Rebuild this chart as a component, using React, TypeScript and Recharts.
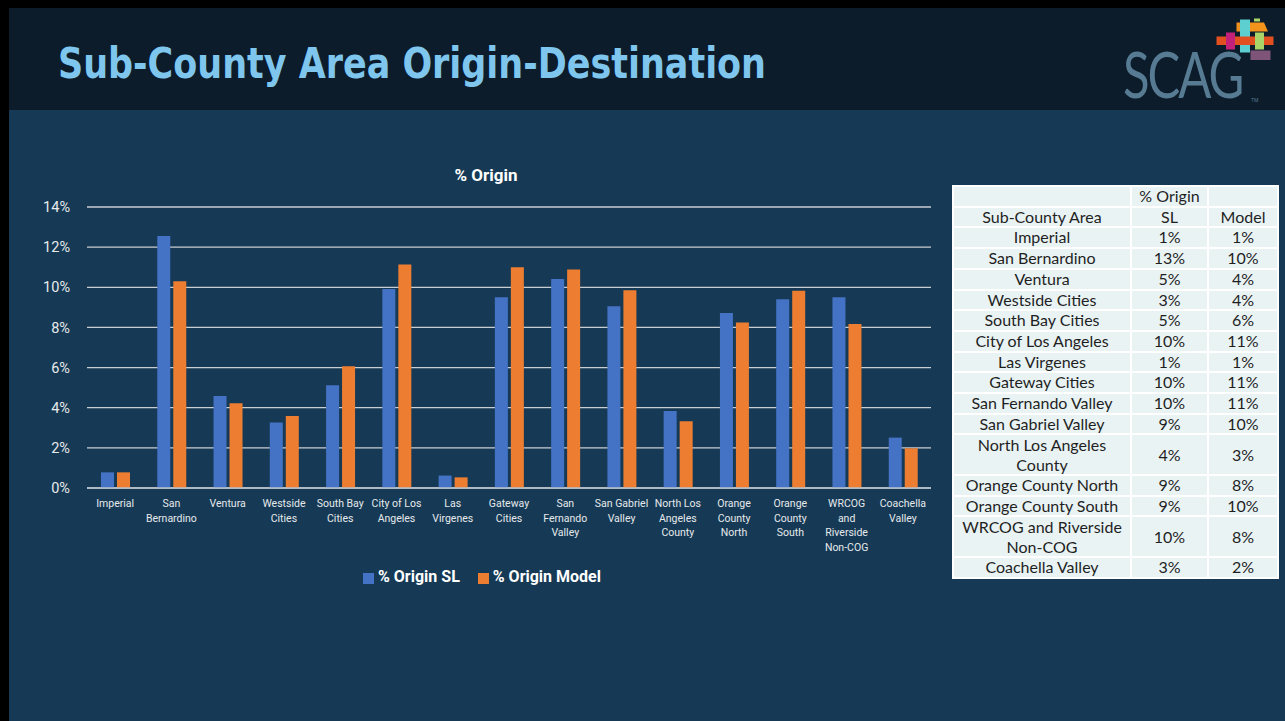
import React from 'react'
import { BarChart, Bar, XAxis, YAxis, CartesianGrid, Legend } from 'recharts'

const CATEGORIES = [
  'Imperial', 'San Bernardino', 'Ventura', 'Westside Cities', 'South Bay Cities',
  'City of Los Angeles', 'Las Virgenes', 'Gateway Cities', 'San Fernando Valley',
  'San Gabriel Valley', 'North Los Angeles County', 'Orange County North',
  'Orange County South', 'WRCOG and Riverside Non-COG', 'Coachella Valley',
]
const TICK_LINES = [
  ['Imperial'], ['San', 'Bernardino'], ['Ventura'], ['Westside', 'Cities'], ['South Bay', 'Cities'],
  ['City of Los', 'Angeles'], ['Las', 'Virgenes'], ['Gateway', 'Cities'], ['San', 'Fernando', 'Valley'],
  ['San Gabriel', 'Valley'], ['North Los', 'Angeles', 'County'], ['Orange', 'County', 'North'],
  ['Orange', 'County', 'South'], ['WRCOG', 'and', 'Riverside', 'Non-COG'], ['Coachella', 'Valley'],
]
const ORIGIN_SL = [0.78, 12.56, 4.58, 3.26, 5.12, 9.92, 0.62, 9.5, 10.41, 9.05, 3.84, 8.72, 9.4, 9.5, 2.51]
const ORIGIN_MODEL = [0.78, 10.3, 4.22, 3.59, 6.06, 11.13, 0.53, 11.0, 10.88, 9.85, 3.32, 8.24, 9.83, 8.17, 1.98]
const Y_TICKS = [0, 2, 4, 6, 8, 10, 12, 14]

const TABLE_AREAS = [
  'Imperial', 'San Bernardino', 'Ventura', 'Westside Cities', 'South Bay Cities',
  'City of Los Angeles', 'Las Virgenes', 'Gateway Cities', 'San Fernando Valley',
  'San Gabriel Valley', 'North Los Angeles\nCounty', 'Orange County North',
  'Orange County South', 'WRCOG and Riverside\nNon-COG', 'Coachella Valley',
]
const TABLE_SL = ['1%', '13%', '5%', '3%', '5%', '10%', '1%', '10%', '10%', '9%', '4%', '9%', '9%', '10%', '3%']
const TABLE_MODEL = ['1%', '10%', '4%', '4%', '6%', '11%', '1%', '11%', '11%', '10%', '3%', '8%', '10%', '8%', '2%']

const data = CATEGORIES.map((name, i) => ({
  name,
  sl: ORIGIN_SL[i],
  model: ORIGIN_MODEL[i],
}))

const CHART_FONT = 'Roboto, "Noto Sans", sans-serif'

function CategoryTick(props: any) {
  const { x, y, index } = props
  const lines = TICK_LINES[index] || []
  return (
    <text x={x} y={y} textAnchor="middle" fill="#e6e9ec" fontSize={10.5} fontFamily={CHART_FONT}>
      {lines.map((l, i) => (
        <tspan key={i} x={x} dy={i === 0 ? 11 : 14.5}>{l}</tspan>
      ))}
    </text>
  )
}

const cellStyle: React.CSSProperties = {
  border: '2px solid #ffffff',
  padding: 0,
  textAlign: 'center',
  height: 18.7,
  lineHeight: '18.7px',
  whiteSpace: 'pre-line',
}

// SCAG mark: text plus the coloured blocks above it
function Logo() {
  return (
    <svg width={180} height={110} style={{ position: 'absolute', left: 1105, top: 0 }}>
      <rect x={131.5} y={22.5} width={4} height={9} fill="#f0901e" />
      <rect x={135} y={19.5} width={10} height={33} fill="#5ecfd0" />
      <polygon points="145,22.5 159,22.5 163,31.5 145,31.5" fill="#f2931c" />
      <rect x={149} y={18.5} width={6} height={3} fill="#a8d86b" />
      <rect x={111.5} y={36.5} width={57} height={8.5} fill="#e2501f" />
      <rect x={121} y={32.5} width={9} height={17} fill="#c3207a" />
      <rect x={150} y={32.5} width={9} height={17} fill="#a9d46a" />
      <rect x={145.5} y={50.5} width={20} height={9.5} fill="#7e5478" />
      <text
        transform="translate(18,98) scale(1,1.3)"
        x={0}
        y={0}
        fontSize={49}
        fontWeight={400}
        letterSpacing={-2}
        fontFamily='Lato, "Open Sans", sans-serif'
        fill="#577b93"
      >
        SCAG
      </text>
      <text x={146} y={102} fontSize={5} fill="#577b93" fontFamily="Roboto, sans-serif">TM</text>
    </svg>
  )
}

export default function App() {
  return (
    <div style={{ position: 'absolute', left: 0, top: 0, width: 1285, height: 721, background: '#000', overflow: 'hidden' }}>
      {/* header */}
      <div style={{ position: 'absolute', left: 9, top: 8, width: 1276, height: 102, background: '#0c1c2a' }} />
      <div style={{ position: 'absolute', left: 9, top: 110, width: 1276, height: 611, background: '#163a55' }} />
      <svg width={1000} height={110} style={{ position: 'absolute', left: 0, top: 0 }}>
        <text
          x={58}
          y={78}
          fontSize={42}
          fontWeight={700}
          fontFamily='"DejaVu Sans Condensed", "DejaVu Sans", sans-serif'
          fill="#7fc6ee"
          textLength={708}
          lengthAdjust="spacingAndGlyphs"
        >
          Sub-County Area Origin-Destination
        </text>
      </svg>
      <Logo />

      {/* chart title */}
      <div
        style={{
          position: 'absolute', left: 386, top: 164, width: 200, textAlign: 'center',
          color: '#ffffff', fontFamily: CHART_FONT, fontWeight: 700, fontSize: 17, lineHeight: '22px',
        }}
      >
        % Origin
      </div>

      <div style={{ position: 'absolute', left: 0, top: 150 }}>
        <BarChart
          width={945}
          height={460}
          data={data}
          margin={{ top: 57, right: 14, left: 0, bottom: 0 }}
          barGap={3}
          barSize={13}
        >
          <CartesianGrid vertical={false} stroke="#c9ced3" strokeWidth={1.3} />
          <XAxis
            dataKey="name"
            interval={0}
            height={122}
            tickLine={false}
            axisLine={{ stroke: '#b9c0c7', strokeWidth: 1.3 }}
            tick={<CategoryTick />}
          />
          <YAxis
            domain={[0, 14]}
            ticks={Y_TICKS}
            width={87}
            axisLine={false}
            tickLine={false}
            tickMargin={11}
            tickFormatter={(v: number) => `${v}%`}
            tick={{ fill: '#e8eaec', fontSize: 14.5, fontFamily: CHART_FONT }}
          />
          <Legend
            verticalAlign="middle"
            align="center"
            layout="horizontal"
            iconType="square"
            iconSize={11}
            itemSorter={(item: any) => (item.dataKey === 'sl' ? 0 : 1)}
            wrapperStyle={{ top: 417, left: 0, width: 982 }}
            formatter={(value: string) => (
              <span style={{ color: '#ffffff', fontWeight: 700, fontSize: 16, fontFamily: CHART_FONT, marginRight: 8 }}>
                {value}
              </span>
            )}
          />
          <Bar dataKey="sl" name="% Origin SL" fill="#4472c4" isAnimationActive={false} />
          <Bar dataKey="model" name="% Origin Model" fill="#ed7d31" isAnimationActive={false} />
        </BarChart>
      </div>

      {/* data table */}
      <table
        style={{
          position: 'absolute', left: 952, top: 185, width: 326, borderCollapse: 'collapse',
          background: '#e9f3f4', color: '#1f1f1f', fontFamily: 'Lato, "Open Sans", sans-serif', fontSize: 16,
          tableLayout: 'fixed',
        }}
      >
        <colgroup>
          <col style={{ width: 178 }} />
          <col style={{ width: 77 }} />
          <col style={{ width: 70 }} />
        </colgroup>
        <tbody>
          <tr>
            <td style={cellStyle}></td>
            <td style={cellStyle}>% Origin</td>
            <td style={cellStyle}></td>
          </tr>
          <tr>
            <td style={cellStyle}>Sub-County Area</td>
            <td style={cellStyle}>SL</td>
            <td style={cellStyle}>Model</td>
          </tr>
          {TABLE_AREAS.map((area, i) => {
            const two = area.includes('\n')
            const s = two ? { ...cellStyle, lineHeight: '19.3px', height: 38.6 } : cellStyle
            return (
              <tr key={area}>
                <td style={s}>{area}</td>
                <td style={s}>{TABLE_SL[i]}</td>
                <td style={s}>{TABLE_MODEL[i]}</td>
              </tr>
            )
          })}
        </tbody>
      </table>
    </div>
  )
}
